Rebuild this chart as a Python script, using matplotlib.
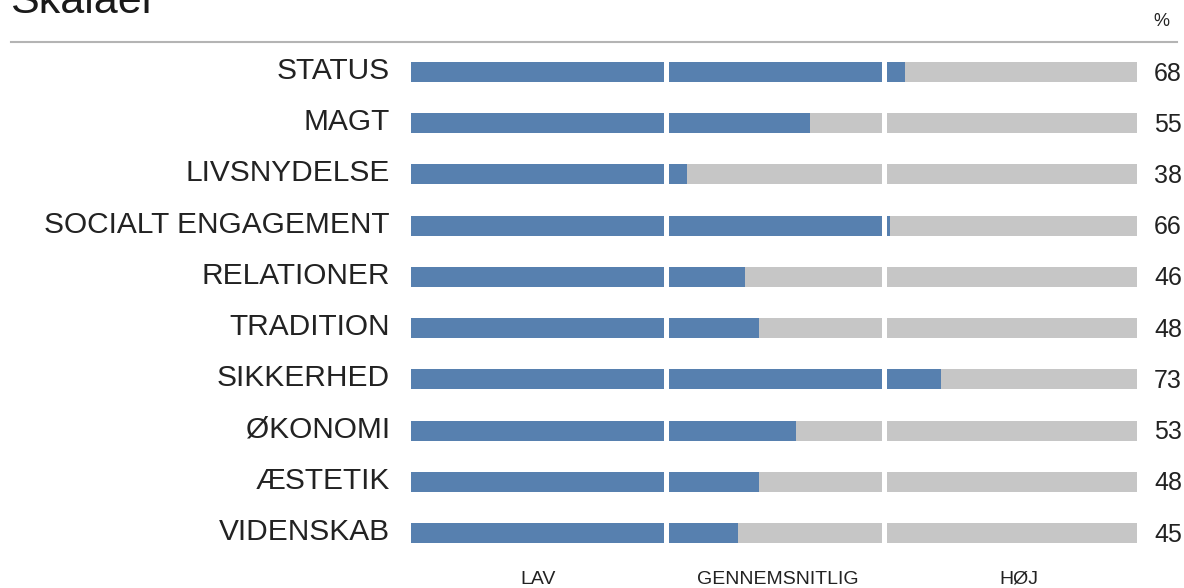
import matplotlib
matplotlib.use("Agg")
import matplotlib.pyplot as plt
from matplotlib.transforms import blended_transform_factory

plt.rcParams['font.family'] = ['Liberation Sans', 'DejaVu Sans']

# Scale scores (0-100) per value dimension
categories = ["STATUS", "MAGT", "LIVSNYDELSE", "SOCIALT ENGAGEMENT", "RELATIONER",
              "TRADITION", "SIKKERHED", "ØKONOMI", "ÆSTETIK", "VIDENSKAB"]
scores = [68, 55, 38, 66, 46, 48, 73, 53, 48, 45]

# Level bands along the scale
band_edges = [0, 35, 65, 100]
band_labels = ["LAV", "GENNEMSNITLIG", "HØJ"]

title = "Skalaer"
unit_label = "%"

BLUE = "#5780AF"
GREY = "#C6C6C6"
TEXT = "#222222"

W, H = 1184, 588
fig = plt.figure(figsize=(W / 100, H / 100), dpi=100)

def fx(px):
    return px / W

def fy(py):
    return 1 - py / H

# Axes area holding the bars (x: 0..100 scale)
ax_left, ax_right = 411, 1137
row_top, row_bottom = 72, 533
n = len(categories)
step = (row_bottom - row_top) / (n - 1)
ax_top = row_top - step / 2
ax_bot = row_bottom + step / 2
ax = fig.add_axes([fx(ax_left), fy(ax_bot), fx(ax_right - ax_left), (ax_bot - ax_top) / H])
ax.set_xlim(0, 100)
ax.set_ylim(n - 0.5, -0.5)
ax.axis("off")

bar_h = 20 / step
gap_lo, gap_hi = 0.15, 0.55

segments = []
for i in range(len(band_edges) - 1):
    lo = band_edges[i] + (gap_hi if i > 0 else 0)
    hi = band_edges[i + 1] - (gap_lo if i < len(band_edges) - 2 else 0)
    segments.append((lo, hi))

for row, (cat, val) in enumerate(zip(categories, scores)):
    for lo, hi in segments:
        ax.barh(row, hi - lo, left=lo, height=bar_h, color=GREY, linewidth=0)
        if val > lo:
            ax.barh(row, min(val, hi) - lo, left=lo, height=bar_h, color=BLUE, linewidth=0)

# Category and value labels: x in figure fraction, y on the row
trans_fig_x = blended_transform_factory(fig.transFigure, ax.transData)
for row, (cat, val) in enumerate(zip(categories, scores)):
    fig.text(fx(390), row - 0.02, cat, transform=trans_fig_x, ha="right", va="center",
             fontsize=21.5, color=TEXT)
    fig.text(fx(1154), row + 0.03, f"{val}", transform=trans_fig_x, ha="left", va="center",
             fontsize=18, color=TEXT)

# Band names under the bars (last one sits slightly right of its band centre)
nudges = [1, 2, 7]
for lbl, (lo, hi), dx in zip(band_labels, segments, nudges):
    xc = (ax.transData.transform(((lo + hi) / 2, 0))[0] + dx) / W
    fig.text(xc, fy(579), lbl, ha="center", va="center", fontsize=14, color=TEXT)

# Title, rule and unit
fig.text(fx(10), fy(13), title, ha="left", va="baseline", fontsize=31, color="#1a1a1a")
fig.add_artist(plt.Line2D([fx(11), fx(1177)], [fy(41.5), fy(41.5)],
                          color="#B4B4B4", linewidth=1.5, transform=fig.transFigure))
fig.text(fx(1161), fy(22), unit_label, ha="center", va="center", fontsize=13, color=TEXT)

fig.savefig("out.png", dpi=100)
